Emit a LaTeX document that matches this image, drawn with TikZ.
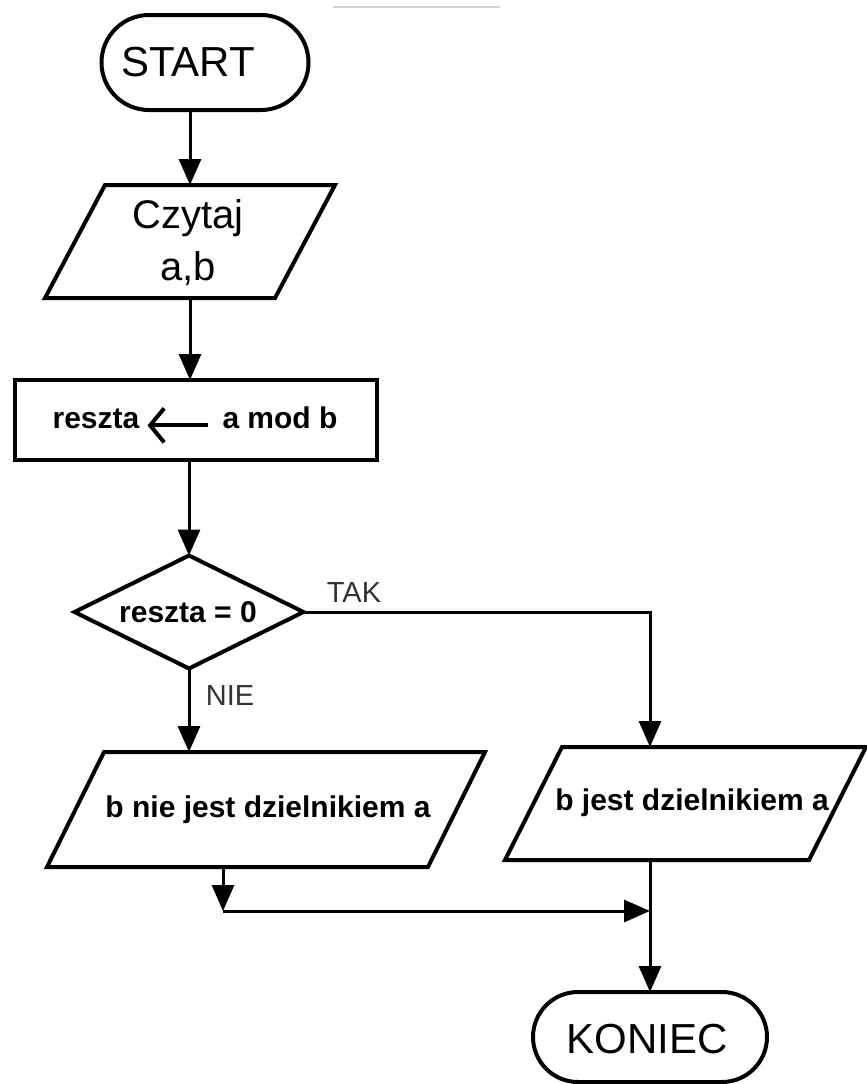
\documentclass[tikz,border=0pt]{standalone}
\usepackage{fontspec}
\setmainfont{Liberation Sans}
\usetikzlibrary{shapes.geometric,shapes.misc,arrows.meta,calc}

\tikzset{
  outline/.style={draw=black, line width=4pt, inner sep=0pt, outer sep=0pt, fill=white},
  terminal/.style={outline, rounded rectangle},
  process/.style={outline, rectangle},
  decision/.style={outline, diamond, aspect=2},
  frame/.style={rectangle, inner sep=0pt, outer sep=0pt},
  slanted/.style={draw=black, line width=4pt, fill=white, line join=miter},
  bigtext/.style={inner sep=0pt, font=\fontsize{42}{50}\selectfont},
  readtext/.style={inner sep=0pt, font=\fontsize{40}{48}\selectfont},
  boldtext/.style={inner sep=0pt, font=\fontsize{30}{36}\selectfont\bfseries},
  branch/.style={inner sep=0pt, text=black!80, font=\fontsize{29}{34}\selectfont},
  flow/.style={line width=3pt, -{Triangle[length=26pt,width=22pt]}},
  assign/.style={line width=4pt, -{Straight Barb[length=14pt,width=34pt,line width=4pt]}},
}

% parallelogram drawn inside a named frame node: #1 = node name, #2 = slant
\newcommand{\ioshape}[2]{%
  \draw[slanted] ($(#1.north west)+(#2,0)$) -- (#1.north east)
    -- ($(#1.south east)-(#2,0)$) -- (#1.south west) -- cycle;}

\begin{document}
\begin{tikzpicture}[x=1pt,y=-1pt]
\useasboundingbox[fill=white] (0,0) rectangle (867,1084);
\draw[gray!35, line width=2pt] (333,7) -- (500,7);

% start terminal
\node[terminal, minimum width=207pt, minimum height=95pt] (start) at (205,62.5) {};
\node[bigtext, anchor=base] (starttxt) at (188,76) {START};

% input a, b
\node[frame, minimum width=290pt, minimum height=113pt] (read) at (190,241.5) {};
\ioshape{read}{60}
\node[readtext, anchor=base] (readA) at (188,228) {Czytaj};
\node[readtext, anchor=base] (readB) at (188,280) {a,b};

% remainder assignment
\node[process, minimum width=362pt, minimum height=80pt] (calc) at (196,420) {};
\node[boldtext, anchor=base] (rest) at (96,428) {reszta};
\node[boldtext, anchor=base] (mod) at (280,428) {a mod b};
\draw[assign, shorten <=14pt, shorten >=8pt] (mod.mid west) -- (rest.mid east);

% test of the remainder
\node[decision, minimum width=229pt, minimum height=113pt] (test) at (189,612) {};
\node[boldtext, anchor=base] (testtxt) at (188,622) {reszta = 0};

% outputs
\node[frame, minimum width=438pt, minimum height=115pt] (no) at (266,809.5) {};
\ioshape{no}{57}
\node[boldtext, anchor=base] (notxt) at (268,817) {b nie jest dzielnikiem a};

\node[frame, minimum width=361pt, minimum height=113pt] (yes) at (685.5,803.5) {};
\ioshape{yes}{57}
\node[boldtext, anchor=base] (yestxt) at (692,810) {b jest dzielnikiem a};

% end terminal
\node[terminal, minimum width=234pt, minimum height=90pt] (end) at (650,1037) {};
\node[bigtext, anchor=base] (endtxt) at (647,1053) {KONIEC};

% connectors
\draw[flow] (start.south -| read.north) -- (read.north);
\draw[flow] (read.south) -- (read.south |- calc.north);
\draw[flow] (test.north |- calc.south) -- (test.north);
\draw[flow] (test.east) -| (end.north |- yes.north);
\draw[flow] (test.south) -- (test.south |- no.north);
\coordinate (merge) at (223,911);
\draw[flow] (merge |- no.south) -- (merge);
\draw[flow] (merge) -- (merge -| end.north);
\draw[flow] (end.north |- yes.south) -- (end.north);

% branch labels
\node[branch, anchor=base] (tak) at (354,602) {TAK};
\node[branch, anchor=base] (nie) at (230,705) {NIE};
\end{tikzpicture}
\end{document}
